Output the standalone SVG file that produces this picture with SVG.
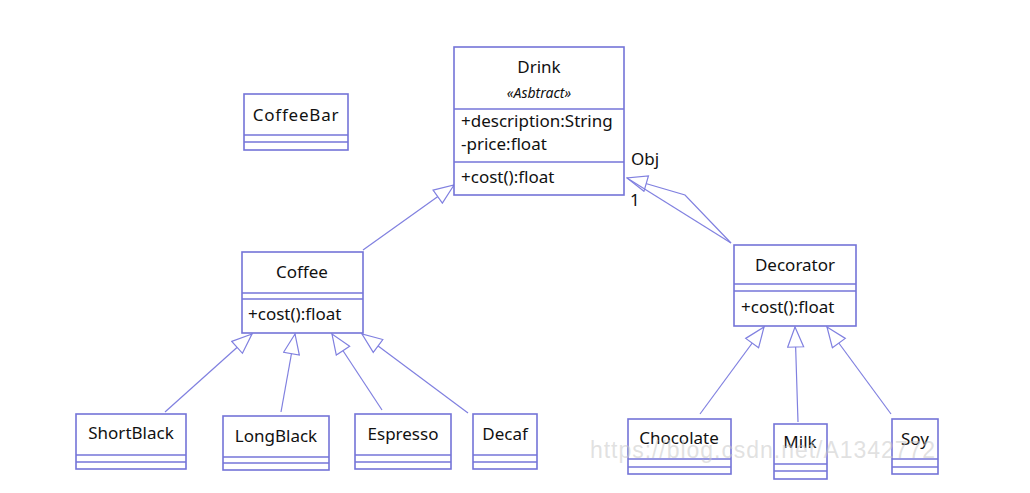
<svg xmlns="http://www.w3.org/2000/svg" width="1030" height="493" viewBox="0 0 1030 493">
<style>
.box{fill:#fff;stroke:#7474d8;stroke-width:1.6}
.sep{stroke:#7474d8;stroke-width:1.6;fill:none}
.ln{stroke:#8080e0;stroke-width:1.2;fill:none}
text{font-family:"Noto Sans","DejaVu Sans",sans-serif;font-size:17px;fill:#111}
.c{text-anchor:middle}
.st{font-size:14px;font-style:italic}
.wm{font-family:"Liberation Sans",Arial,sans-serif;font-size:23px;fill:#c8c8c8;fill-opacity:0.55}
</style>
<defs>
<marker id="gen" viewBox="0 0 22 18" refX="21" refY="9" markerWidth="22" markerHeight="18" markerUnits="userSpaceOnUse" orient="auto">
<path d="M1,1 L21,9 L1,17 Z" fill="#fff" stroke="#8080e0" stroke-width="1.2"/>
</marker>
</defs>
<rect width="1030" height="493" fill="#fff"/>
<g id="connectors">
<line class="ln" x1="363" y1="250" x2="454" y2="185" marker-end="url(#gen)"/>
<line class="ln" x1="165" y1="412" x2="252" y2="334" marker-end="url(#gen)"/>
<line class="ln" x1="281" y1="412" x2="295" y2="334" marker-end="url(#gen)"/>
<line class="ln" x1="382" y1="410" x2="332" y2="334" marker-end="url(#gen)"/>
<line class="ln" x1="468" y1="413" x2="362" y2="334" marker-end="url(#gen)"/>
<line class="ln" x1="700" y1="414" x2="764" y2="327" marker-end="url(#gen)"/>
<line class="ln" x1="798" y1="422" x2="795" y2="327" marker-end="url(#gen)"/>
<line class="ln" x1="891" y1="414" x2="827" y2="327" marker-end="url(#gen)"/>
<polyline class="ln" points="731,243 685,195 627,178" marker-end="url(#gen)"/>
<line class="ln" x1="731" y1="243" x2="627" y2="178"/>
<text x="631" y="165">Obj</text>
<text x="630" y="206">1</text>
</g>
<g id="Drink">
<rect class="box" x="454" y="47" width="170" height="148"/>
<line class="sep" x1="454" y1="109" x2="624" y2="109"/>
<line class="sep" x1="454" y1="162" x2="624" y2="162"/>
<text class="c" x="539" y="73">Drink</text>
<text class="c st" x="539" y="98">«Asbtract»</text>
<text x="461" y="127">+description:String</text>
<text x="461" y="150">-price:float</text>
<text x="461" y="183">+cost():float</text>
</g>
<g id="CoffeeBar">
<rect class="box" x="244" y="94" width="104" height="56"/>
<line class="sep" x1="244" y1="135" x2="348" y2="135"/>
<line class="sep" x1="244" y1="142" x2="348" y2="142"/>
<text class="c" x="296" y="121" letter-spacing="0.8">CoffeeBar</text>
</g>
<g id="Coffee">
<rect class="box" x="242" y="252" width="121" height="81"/>
<line class="sep" x1="242" y1="293" x2="363" y2="293"/>
<line class="sep" x1="242" y1="299" x2="363" y2="299"/>
<text class="c" x="302" y="278">Coffee</text>
<text x="248" y="320">+cost():float</text>
</g>
<g id="Decorator">
<rect class="box" x="734" y="245" width="122" height="81"/>
<line class="sep" x1="734" y1="284" x2="856" y2="284"/>
<line class="sep" x1="734" y1="291" x2="856" y2="291"/>
<text class="c" x="795" y="271">Decorator</text>
<text x="741" y="313">+cost():float</text>
</g>
<g id="ShortBlack">
<rect class="box" x="76" y="414" width="110" height="55"/>
<line class="sep" x1="76" y1="455" x2="186" y2="455"/>
<line class="sep" x1="76" y1="462" x2="186" y2="462"/>
<text class="c" x="131" y="439">ShortBlack</text>
</g>
<g id="LongBlack">
<rect class="box" x="223" y="416" width="106" height="54"/>
<line class="sep" x1="223" y1="457" x2="329" y2="457"/>
<line class="sep" x1="223" y1="463" x2="329" y2="463"/>
<text class="c" x="276" y="442">LongBlack</text>
</g>
<g id="Espresso">
<rect class="box" x="355" y="414" width="96" height="55"/>
<line class="sep" x1="355" y1="455" x2="451" y2="455"/>
<line class="sep" x1="355" y1="462" x2="451" y2="462"/>
<text class="c" x="403" y="440">Espresso</text>
</g>
<g id="Decaf">
<rect class="box" x="473" y="414" width="64" height="55"/>
<line class="sep" x1="473" y1="455" x2="537" y2="455"/>
<line class="sep" x1="473" y1="462" x2="537" y2="462"/>
<text class="c" x="505" y="440">Decaf</text>
</g>
<g id="Chocolate">
<rect class="box" x="628" y="419" width="103" height="55"/>
<line class="sep" x1="628" y1="459" x2="731" y2="459"/>
<line class="sep" x1="628" y1="467" x2="731" y2="467"/>
<text class="c" x="679" y="444">Chocolate</text>
</g>
<g id="Milk">
<rect class="box" x="774" y="424" width="53" height="55"/>
<line class="sep" x1="774" y1="464" x2="827" y2="464"/>
<line class="sep" x1="774" y1="471" x2="827" y2="471"/>
<text class="c" x="800" y="448">Milk</text>
</g>
<g id="Soy">
<rect class="box" x="892" y="419" width="46" height="55"/>
<line class="sep" x1="892" y1="459" x2="938" y2="459"/>
<line class="sep" x1="892" y1="467" x2="938" y2="467"/>
<text class="c" x="915" y="445">Soy</text>
</g>
<text class="wm" x="590" y="458" textLength="345">https://blog.csdn.net/A1342772</text>
</svg>
